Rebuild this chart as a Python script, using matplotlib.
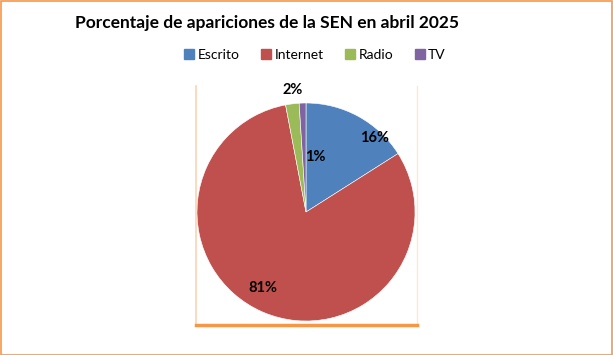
import numpy as np
import matplotlib.pyplot as plt
from matplotlib.lines import Line2D
from matplotlib.patches import Rectangle

categories = ['Escrito', 'Internet', 'Radio', 'TV']
values = [16, 81, 2, 1]
colors = ['#4F81BD', '#C0504D', '#9BBB59', '#8064A2']
# label placement tweaks (radius, angle offset in degrees)
label_r = [0.92, 0.80, 1.125, 0.51]
label_dang = [-14, -6, -1, -11]

plt.rcParams['font.family'] = ['Lato', 'DejaVu Sans']

W, H = 613, 355
fig = plt.figure(figsize=(W / 100, H / 100), dpi=100)
fig.patch.set_facecolor('white')

# outer orange border
fig.add_artist(Rectangle((0.5 / W, 0.5 / H), 1 - 1.5 / W, 1 - 1.5 / H, transform=fig.transFigure,
                         fill=False, edgecolor='#F79646', lw=1.2))

# plot area frame with soft shadow
x0, x1, ytop, ybot = 196, 417, 86, 323
fig.add_artist(Line2D([x0 / W, x0 / W], [1 - ytop / H, 1 - ybot / H], transform=fig.transFigure,
                      color='#FBD3B3', lw=1.2))
fig.add_artist(Line2D([x1 / W, x1 / W], [1 - ytop / H, 1 - ybot / H], transform=fig.transFigure,
                      color='#FDE6D4', lw=1.0))
fig.add_artist(Line2D([x0 / W, x1 / W], [1 - (ybot + 2) / H, 1 - (ybot + 2) / H], transform=fig.transFigure,
                      color='#F79646', lw=2.5))

cx, cy, r = 306, 212, 109
ax = fig.add_axes([(cx - r) / W, 1 - (cy + r) / H, 2 * r / W, 2 * r / H])
wedges, _ = ax.pie(values, colors=colors, startangle=90, counterclock=False,
                   wedgeprops=dict(edgecolor='white', linewidth=0.4))
ax.set_xlim(-1, 1)
ax.set_ylim(-1, 1)
ax.set_aspect('equal')
ax.axis('off')

total = sum(values)
for w, v, rr, da in zip(wedges, values, label_r, label_dang):
    mid = (w.theta1 + w.theta2) / 2 + da
    ang = np.deg2rad(mid)
    ax.text(rr * np.cos(ang), rr * np.sin(ang), f'{round(100 * v / total)}%',
            ha='center', va='center', fontsize=10.5, fontweight='bold', color='black', clip_on=False)

fig.text(267 / W, 1 - 23 / H, 'Porcentaje de apariciones de la SEN en abril 2025',
         ha='center', va='center', fontsize=12.5, fontweight='bold')

handles = [Line2D([], [], marker='s', linestyle='', markersize=6.5, color=c) for c in colors]
fig.legend(handles, categories, loc='center', bbox_to_anchor=(314 / W, 1 - 55 / H), ncol=4,
           frameon=False, fontsize=10, handletextpad=0.1, columnspacing=1.4, handlelength=1.0)

fig.savefig('out.png', dpi=100)
